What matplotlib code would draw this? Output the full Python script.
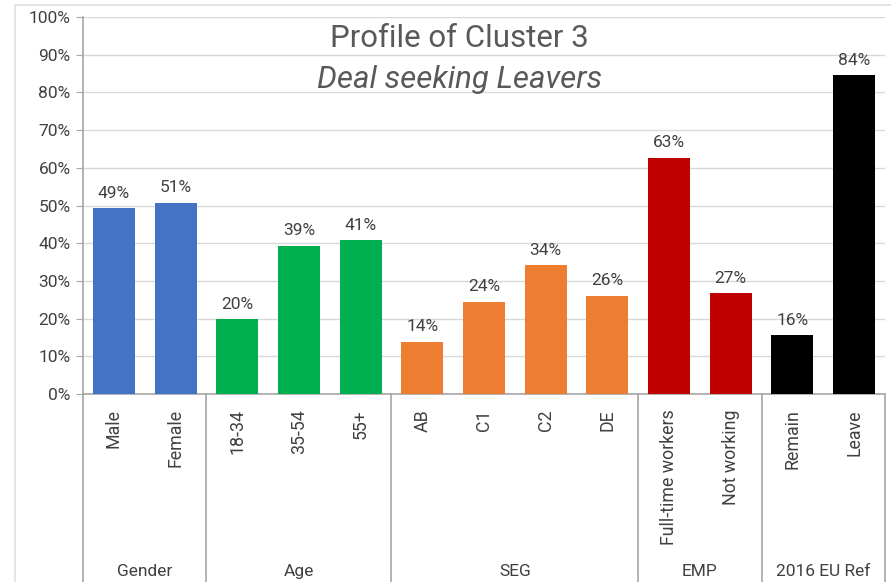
import matplotlib.pyplot as plt
import numpy as np

plt.rcParams['font.family'] = ['Roboto', 'DejaVu Sans']

labels = ["Male", "Female", "18-34", "35-54", "55+", "AB", "C1", "C2", "DE",
          "Full-time workers", "Not working", "Remain", "Leave"]
values = [49.3, 50.7, 19.8, 39.3, 40.8, 13.8, 24.4, 34.2, 26.1, 62.7, 26.7, 15.6, 84.5]
groups = ["Gender", "Age", "SEG", "EMP", "2016 EU Ref"]
group_sizes = [2, 3, 4, 2, 2]
group_colors = ["#4472C4", "#00B050", "#ED7D31", "#C00000", "#000000"]

colors = []
for c, n in zip(group_colors, group_sizes):
    colors += [c] * n

fig = plt.figure(figsize=(8.91, 5.82), dpi=100)
# light frame round the chart
fig.add_artist(plt.Rectangle((0.017, -0.01), 1.0, 1.001, transform=fig.transFigure,
                             fill=False, edgecolor="#e0e0e0", lw=1.2))
ax = fig.add_axes([0.0932, 0.323, 0.9, 0.6478])

x = np.arange(len(labels))
ax.bar(x, values, width=0.68, color=colors, zorder=3)
ax.set_xlim(-0.5, len(labels) - 0.5)
ax.set_ylim(0, 100)

for xi, v in zip(x, values):
    ax.text(xi, v + 2, "%d%%" % round(v), ha="center", va="bottom",
            fontsize=12.5, color="#404040")

ax.set_yticks(np.arange(0, 101, 10))
ax.set_yticklabels(["%d%%" % t for t in range(0, 101, 10)], fontsize=12.5, color="#404040")
ax.yaxis.grid(True, color="#d9d9d9", lw=1, zorder=0)
ax.set_xticks(x)
ax.set_xticklabels(labels, rotation=90, fontsize=12.8, color="#404040", va="top")
ax.tick_params(axis="x", length=0, pad=11)
ax.tick_params(axis="y", length=5, color="#a6a6a6", pad=4)
for s in ["top", "right"]:
    ax.spines[s].set_visible(False)
ax.spines["left"].set_color("#a6a6a6")
ax.spines["bottom"].set_color("#a6a6a6")
ax.spines["left"].set_linewidth(1.2)
ax.spines["bottom"].set_linewidth(1.2)

# group separators and labels under the axis
trans = ax.get_xaxis_transform()
edges = np.concatenate([[0], np.cumsum(group_sizes)]) - 0.5
for e in edges:
    ax.plot([e, e], [0, -0.5], transform=trans, color="#a6a6a6", lw=1.2, clip_on=False)
for g, a, b in zip(groups, edges[:-1], edges[1:]):
    ax.text((a + b) / 2, -0.47, g, transform=trans, ha="center", va="center",
            fontsize=12.5, color="#404040")

fig.text(0.516, 0.933, "Profile of Cluster 3", ha="center", va="center",
         fontsize=22.5, color="#595959")
fig.text(0.516, 0.864, "Deal seeking Leavers", ha="center", va="center",
         fontsize=22.5, color="#595959", style="italic")

fig.savefig("out.png", dpi=100)
